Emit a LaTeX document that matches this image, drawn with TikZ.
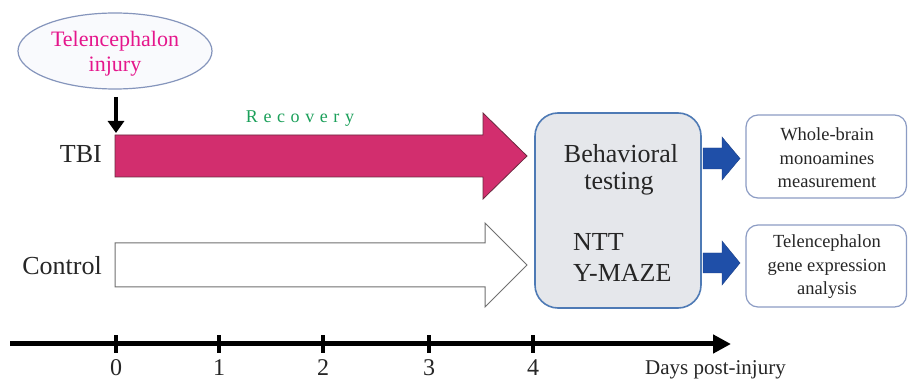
\documentclass[tikz,border=0pt]{standalone}
\usepackage{fontspec}
\setmainfont{Liberation Serif}
\usetikzlibrary{arrows.meta,shapes.geometric}
\definecolor{pinkfill}{HTML}{D22E6E}
\definecolor{pinkline}{HTML}{6B2B40}
\definecolor{magtext}{HTML}{E5168C}
\definecolor{recgreen}{HTML}{1BA05A}
\definecolor{ellblue}{HTML}{8595BC}
\definecolor{ellfill}{HTML}{F9FAFD}
\definecolor{behfill}{HTML}{E5E7EB}
\definecolor{behline}{HTML}{4E7AB5}
\definecolor{bluearrow}{HTML}{1F4FA8}
\definecolor{boxline}{HTML}{8C9CC4}
\definecolor{grayline}{HTML}{707070}
\tikzset{
  bigtxt/.style={font=\fontsize{26}{30}\selectfont, inner sep=0pt, text=black!85},
  boxtxt/.style={font=\fontsize{18.5}{23.5}\selectfont, align=center, inner sep=0pt, text=black!85},
  ticklab/.style={font=\fontsize{24}{28}\selectfont, inner sep=0pt, anchor=base, text=black!85},
  tickmark/.style={line width=4pt},
  outbox/.style={draw=boxline, line width=1.2pt, rounded corners=12pt, fill=white},
  bluearr/.style={fill=bluearrow, draw=bluearrow!80!black, line width=0.4pt},
}
\begin{document}
\begin{tikzpicture}[x=1pt,y=-1pt]
\useasboundingbox (0,0) rectangle (908,379);
\fill[white] (0,0) rectangle (908,379);

% injury ellipse
\node[ellipse, draw=ellblue, line width=1.2pt, fill=ellfill, minimum width=194pt, minimum height=76pt, inner sep=0pt] (inj) at (115,51) {};
\node[font=\fontsize{22}{25}\selectfont, text=magtext, align=center, inner sep=0pt, anchor=base] (injtxt) at (115,72) {Telencephalon\\injury};

% down arrow
\coordinate (dA) at (116,97);
\coordinate (dB) at (116,133);
\draw[line width=4pt,-{Triangle[length=12pt,width=16pt]}] (dA) -- (dB);

% TBI arrow
\draw[fill=pinkfill, draw=pinkline, line width=0.8pt]
  (115,135) -- (483,135) -- (483,113) -- (527,156) -- (483,199) -- (483,177) -- (115,177) -- cycle;
\node[font=\fontsize{18}{20}\selectfont\addfontfeature{LetterSpace=31}, text=recgreen, anchor=base, inner sep=0pt] (rec) at (300,123) {Recovery};

% Control arrow
\draw[fill=white, draw=grayline, line width=1pt]
  (115,243) -- (485,243) -- (485,223) -- (527,265) -- (485,307) -- (485,287) -- (115,287) -- cycle;

% row labels
\node[bigtxt, anchor=base east] (tbi) at (102,163) {TBI};
\node[bigtxt, anchor=base east] (ctrl) at (102,275) {Control};

% behavioral box
\draw[fill=behfill, draw=behline, line width=1.6pt, rounded corners=23pt] (535,113) rectangle (701,308);
\node[bigtxt, anchor=base] (beh) at (621,163) {Behavioral};
\node[bigtxt, anchor=base] (tst) at (619,190) {testing};
\node[bigtxt, anchor=base west] (ntt) at (573,251) {NTT};
\node[bigtxt, anchor=base west] (ymz) at (573,282) {Y-MAZE};

% blue arrows
\draw[bluearr] (703,148) -- (722,148) -- (722,137) -- (740,158.5) -- (722,180) -- (722,169) -- (703,169) -- cycle;
\draw[bluearr] (703,253) -- (722,253) -- (722,241) -- (740,263) -- (722,285) -- (722,273) -- (703,273) -- cycle;

% output boxes
\draw[outbox] (746,115) rectangle (906.5,198);
\draw[outbox] (746,225) rectangle (906.5,307);
\node[boxtxt, anchor=base] (o1) at (827,188) {Whole-brain\\monoamines\\measurement};
\node[boxtxt, anchor=base] (o2) at (827,295) {Telencephalon\\gene expression\\analysis};

% timeline
\coordinate (tlA) at (10,344);
\coordinate (tlB) at (731,344);
\draw[line width=5pt, -{Triangle[length=18pt,width=18pt]}] (tlA) -- (tlB);
\foreach \x/\n in {116/0,219/1,323/2,429/3,533/4}{
  \coordinate (t\n) at (\x,344);
  \draw[tickmark] ([yshift=-9pt]t\n) -- ([yshift=9pt]t\n);
  \node[ticklab] (lab\n) at (\x,375) {\n};
}
\node[font=\fontsize{21}{23}\selectfont, anchor=base west, inner sep=0pt, text=black!85] (days) at (645,374) {Days post-injury};
\end{tikzpicture}
\end{document}
